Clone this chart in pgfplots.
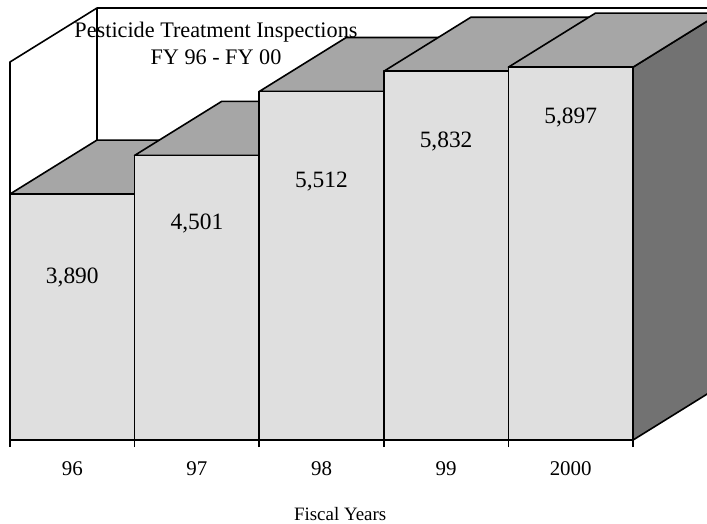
\documentclass[border=0pt]{standalone}
\usepackage{fontspec}
\setmainfont{Liberation Serif}
\usepackage{pgfplots}
\usepackage{pgfplotstable}
\pgfplotsset{compat=1.18}
\definecolor{frontgray}{RGB}{223,223,223}
\definecolor{topgray}{RGB}{166,166,166}
\definecolor{sidegray}{RGB}{114,114,114}

\pgfdeclareplotmark{topface}{%
  \pgfpathmoveto{\pgfpoint{0bp}{0bp}}%
  \pgfpathlineto{\pgfpoint{124.6bp}{0bp}}%
  \pgfpathlineto{\pgfpoint{211.6bp}{54bp}}%
  \pgfpathlineto{\pgfpoint{87bp}{54bp}}%
  \pgfpathclose
  \pgfusepathqfillstroke}
\pgfdeclareplotmark{nothing}{}

\pgfplotstableread{
x y
0 3890
1 4501
2 5512
3 5832
4 5897
}\bars

\pgfplotstableread{
x ly label
0.5 2577 3,890
1.5 3431 4,501
2.5 4080 5,512
3.5 4728 5,832
4.5 5108 5,897
}\barlabels

\begin{document}
\begin{tikzpicture}
\useasboundingbox (-10bp,-84bp) rectangle (697bp,440bp);
\clip (-10bp,-84bp) rectangle (697bp,440bp);
\begin{axis}[
  anchor=origin, at={(0,0)},
  x=124.6bp, y=0.06324bp,
  xmin=0, xmax=5, ymin=0, ymax=5977,
  clip=false,
  clip marker paths=true,
  axis x line*=bottom,
  axis y line=none,
  ytick=\empty,
  xtick={0.5,1.5,2.5,3.5,4.5},
  xticklabels={96,97,98,99,2000},
  minor xtick={0,1,2,3,4,5},
  major tick length=0pt,
  minor tick length=7bp,
  tick align=outside,
  every tick/.style={black, line width=1.6bp},
  axis line style={black, line width=1.6bp},
  xticklabel style={anchor=base, yshift=-35bp, font=\fontsize{21}{24}\selectfont},
  xlabel={Fiscal Years},
  xlabel style={at={(axis description cs:0.53,0)}, anchor=base, yshift=-80bp, font=\fontsize{19}{22}\selectfont},
]
% back and left walls
\draw[black, line width=1.6bp, line join=round] (axis cs:0,0) -- ++(0bp,378bp) -- ++(87bp,54bp) -- ++(700bp,0bp);
\draw[black, line width=1.6bp] (axis cs:0,0) ++(87bp,54bp) -- ++(0bp,378bp);
% side faces
\addplot[scatter, only marks, mark=nothing,
  point meta=explicit symbolic,
  scatter/@pre marker code/.code={%
    \pgfmathsetmacro\hh{0.06324*\pgfplotspointmeta}%
    \path[fill=sidegray, draw=black, line width=1.6bp, line join=round]
      (0bp,0bp) -- (87bp,54bp) -- (87bp,{(54-\hh)*1bp}) -- (0bp,{-\hh*1bp}) -- cycle;
  },
  scatter/@post marker code/.code={}]
  table[x expr=\thisrow{x}+1, y=y, meta=y] {\bars};
% top faces
\addplot[only marks, mark=topface,
  mark options={fill=topgray, draw=black, line width=1.6bp, line join=round}]
  table[x=x, y=y] {\bars};
% front faces
\addplot[scatter, only marks, mark=nothing,
  point meta=explicit symbolic,
  scatter/@pre marker code/.code={%
    \pgfmathsetmacro\hh{0.06324*\pgfplotspointmeta}%
    \path[fill=frontgray, draw=black, line width=1.6bp, line join=round]
      (0bp,0bp) rectangle (124.6bp,{-\hh*1bp});
  },
  scatter/@post marker code/.code={}]
  table[x=x, y=y, meta=y] {\bars};
% value labels
\addplot[draw=none, mark=none, nodes near coords, point meta=explicit symbolic,
  nodes near coords style={anchor=center, font=\fontsize{23.5}{26}\selectfont, text=black}]
  table[x=x, y=ly, meta=label] {\barlabels};
\end{axis}
\node[anchor=base, font=\fontsize{22.3}{26}\selectfont] at (206bp,402bp) {Pesticide Treatment Inspections};
\node[anchor=base, font=\fontsize{22.3}{26}\selectfont] at (206bp,375bp) {FY 96 - FY 00};
\end{tikzpicture}
\end{document}
